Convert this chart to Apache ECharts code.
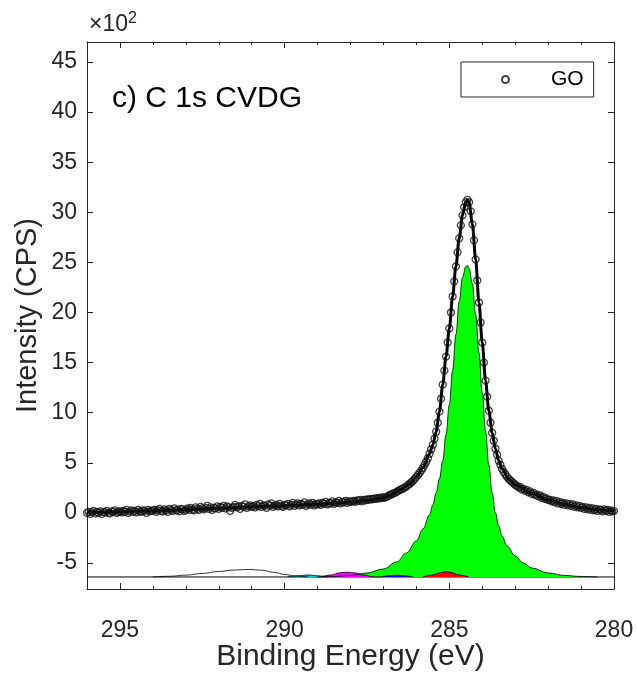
<!DOCTYPE html>
<html>
<head>
<meta charset="utf-8">
<script src="https://cdn.jsdelivr.net/npm/echarts@6/dist/echarts.min.js"></script>
<style>
html,body{margin:0;padding:0;background:#fff;}
#chart{width:637px;height:673px;}
</style>
</head>
<body>
<div id="chart"></div>
<script>
// ---- data (intensity in units of 10^2 CPS) ----
const energyStart = 296.0;   // eV, first measured point
const energyStep = 0.05;     // eV, spacing of measured points (descending)
const goIntensity = [
  0.0, 0.1, -0.1, 0.05, 0.2, -0.05, 0.1, 0.0, 0.15, -0.1, 0.1, 0.05, 0.2, 0.0, -0.05, 0.15, 0.1, 0.25, 0.0, 0.1, 0.15,
  0.05, 0.2, 0.1, 0.3, 0.0, 0.15, 0.25, 0.1, 0.2, 0.05, 0.3, 0.15, 0.1, 0.25, 0.2, 0.0, 0.3, 0.15, 0.2, 0.25,
  0.3, 0.1, 0.25, 0.4, 0.2, 0.15, 0.35, 0.25, 0.1, 0.4, 0.3, 0.2, 0.45, 0.25, 0.3, 0.15, 0.4, 0.35, 0.2, 0.3,
  0.45, 0.3, 0.5, 0.35, 0.25, 0.55, 0.4, 0.3, 0.6, 0.45, 0.35, 0.5, 0.7, 0.4, 0.55, 0.3, 0.5, 0.45, 0.65, 0.4,
  0.6, 0.5, 0.7, 0.45, 0.65, 0.55, 0.2, 0.5, 0.6, 0.8, 0.55, 0.65, 0.4, 0.7, 0.6, 0.85, 0.5, 0.65, 0.75, 0.6,
  0.7, 0.55, 0.8, 0.65, 0.9, 0.6, 0.75, 0.7, 0.5, 0.85, 0.7, 0.95, 0.6, 0.75, 0.8, 0.65, 0.9, 0.7, 0.6, 0.8,
  0.75, 0.9, 0.65, 0.8, 1.0, 0.7, 0.85, 0.95, 0.75, 0.9, 0.8, 1.05, 0.7, 0.85, 0.95, 0.8, 1.0, 0.75, 0.9, 0.85,
  0.95, 0.8, 1.0, 0.9, 1.1, 0.85, 1.0, 0.95, 1.15, 0.9, 1.05, 1.0, 1.2, 0.95, 1.1, 1.05, 1.2, 1.0, 1.15, 1.1,
  1.15, 1.2, 1.1, 1.25, 1.2, 1.3, 1.15, 1.3, 1.25, 1.35, 1.3, 1.4, 1.35, 1.4, 1.45, 1.4, 1.5, 1.45, 1.55, 1.5,
  1.55, 1.6, 1.7, 1.8, 1.85, 1.95, 2.0, 2.1, 2.2, 2.3, 2.35, 2.45, 2.55, 2.65, 2.8, 2.9, 3.05, 3.2, 3.4, 3.6,
  3.8, 4.0, 4.25, 4.5, 4.8, 5.1, 5.45, 5.9, 6.35, 6.8, 7.4, 8.1, 9.0, 10.1, 11.4, 12.8, 14.2, 15.6, 17.0, 18.4,
  20.0, 21.6, 23.1, 24.6, 26.0, 27.4, 28.7, 29.7, 30.5, 31.0, 31.25, 31.0, 30.1, 28.8, 27.2, 25.3, 23.2, 21.0, 19.0, 17.0,
  15.0, 13.2, 11.6, 10.2, 9.0, 8.0, 7.2, 6.4, 5.8, 5.2, 4.8, 4.4, 4.1, 3.85, 3.6, 3.4, 3.25, 3.1, 2.95, 2.8,
  2.7, 2.55, 2.6, 2.35, 2.4, 2.2, 2.3, 2.05, 2.15, 1.9, 2.0, 1.8, 1.85, 1.65, 1.75, 1.5, 1.6, 1.4, 1.45, 1.3,
  1.3, 1.15, 1.25, 1.05, 1.2, 0.95, 1.1, 0.9, 1.0, 0.8, 0.95, 0.75, 0.9, 0.7, 0.85, 0.6, 0.75, 0.55, 0.7, 0.5,
  0.6, 0.4, 0.55, 0.35, 0.5, 0.3, 0.45, 0.25, 0.4, 0.2, 0.35, 0.3, 0.15, 0.35, 0.2, 0.3, 0.1, 0.25, 0.15, 0.2
];

// fitted envelope
const fitEnergy = [296, 295, 294, 293, 292, 291, 290, 289, 288.5, 288, 287.5, 287, 286.8, 286.5, 286.2, 286, 285.8, 285.6, 285.5, 285.4, 285.3, 285.2, 285.1, 285.0, 284.9, 284.8, 284.7, 284.6, 284.5, 284.45, 284.4, 284.3, 284.2, 284.1, 284.0, 283.9, 283.8, 283.7, 283.6, 283.5, 283.4, 283.2, 283.0, 282.5, 282.0, 281.5, 281.0, 280.5, 280];
const fitIntensity = [0.05, 0.12, 0.2, 0.3, 0.45, 0.6, 0.72, 0.85, 0.95, 1.08, 1.25, 1.5, 1.75, 2.3, 2.9, 3.6, 4.5, 5.9, 6.8, 8.1, 10.1, 12.8, 15.6, 18.4, 21.6, 24.6, 27.4, 29.7, 31.0, 31.25, 31.0, 28.8, 25.3, 21.0, 17.0, 13.2, 10.2, 8.0, 6.4, 5.2, 4.4, 3.4, 2.8, 1.95, 1.3, 0.85, 0.5, 0.3, 0.2];

// component baseline (shifted background)
const baselineEnergy = [296, 280];
const baselineIntensity = [-6.4, -6.4];

// component peaks
const greenEnergy = [289.0, 288.5, 288.0, 287.5, 287.0, 286.6, 286.3, 286.0, 285.8, 285.6, 285.5, 285.4, 285.3, 285.2, 285.1, 285.0, 284.9, 284.8, 284.7, 284.6, 284.5, 284.45, 284.4, 284.3, 284.2, 284.1, 284.0, 283.9, 283.8, 283.7, 283.6, 283.5, 283.4, 283.25, 283.0, 282.75, 282.5, 282.0, 281.5, 281.0, 280.5];
const greenIntensity = [-6.4, -6.36, -6.25, -6.0, -5.6, -4.9, -4.0, -2.8, -1.6, -0.2, 0.8, 2.0, 3.4, 5.2, 7.8, 10.8, 14.2, 17.8, 21.1, 23.5, 24.6, 24.7, 24.4, 22.9, 19.8, 16.0, 12.0, 8.2, 4.8, 2.0, 0.0, -1.3, -2.3, -3.3, -4.3, -5.0, -5.5, -6.0, -6.25, -6.35, -6.4];
const whiteEnergy = [294.0, 293.5, 293.0, 292.5, 292.0, 291.5, 291.1, 290.7, 290.3, 290.0, 289.7, 289.3];
const whiteIntensity = [-6.4, -6.33, -6.22, -6.05, -5.85, -5.7, -5.65, -5.72, -5.95, -6.15, -6.3, -6.4];
const cyanEnergy = [289.9, 289.6, 289.3, 289.0, 288.7];
const cyanIntensity = [-6.4, -6.28, -6.2, -6.28, -6.4];
const magentaEnergy = [288.9, 288.6, 288.3, 288.1, 287.9, 287.6, 287.3, 287.1];
const magentaIntensity = [-6.4, -6.2, -5.97, -5.92, -5.98, -6.2, -6.38, -6.4];
const blueEnergy = [287.1, 286.8, 286.6, 286.4, 286.1];
const blueIntensity = [-6.4, -6.28, -6.22, -6.28, -6.4];
const redEnergy = [285.8, 285.5, 285.25, 285.1, 284.95, 284.7, 284.4];
const redIntensity = [-6.4, -6.2, -5.95, -5.88, -5.95, -6.2, -6.4];

// ticks
const xMajorTicks = [280, 285, 290, 295];
const xMinorTicks = [281, 282, 283, 284, 286, 287, 288, 289, 291, 292, 293, 294];
const yMajorTicks = [-5, 0, 5, 10, 15, 20, 25, 30, 35, 40, 45];

// ---- build ----
const pairs = (xs, ys) => xs.map((x, i) => [x, ys[i]]);
const goData = goIntensity.map((v, i) => [Math.round((energyStart - i * energyStep) * 100) / 100, v]);

const FONT = '"Liberation Sans", Arial, Helvetica, sans-serif';
const AX = '#262626';
const xRange = { min: 280, max: 296 };
const yRange = { min: -7.6, max: 47 };

function xAxisDef(position, ticks, len, showLine, withLabel) {
  const a = {
    type: 'value', position: position, min: xRange.min, max: xRange.max, inverse: true,
    axisLine: { show: showLine, onZero: false, lineStyle: { color: AX, width: 1 } },
    axisTick: { show: true, inside: true, length: len, customValues: ticks, lineStyle: { color: AX, width: 1 } },
    axisLabel: { show: false },
    splitLine: { show: false }
  };
  if (withLabel) {
    a.axisLabel = { show: true, customValues: ticks, margin: 30, fontSize: 23, color: AX, fontFamily: FONT };
    a.name = 'Binding Energy (eV)';
    a.nameLocation = 'middle';
    a.nameGap = 53;
    a.nameMoveOverlap = false;
    a.nameTextStyle = { fontSize: 30, color: AX, fontFamily: FONT };
  }
  return a;
}
function yAxisDef(position, withLabel) {
  const a = {
    type: 'value', position: position, min: yRange.min, max: yRange.max,
    axisLine: { show: true, onZero: false, lineStyle: { color: AX, width: 1 } },
    axisTick: { show: true, inside: true, length: 6, customValues: yMajorTicks, lineStyle: { color: AX, width: 1 } },
    axisLabel: { show: false },
    splitLine: { show: false }
  };
  if (withLabel) {
    a.axisLabel = { show: true, customValues: yMajorTicks, margin: 10, fontSize: 23, color: AX, fontFamily: FONT };
    a.name = 'Intensity (CPS)';
    a.nameLocation = 'middle';
    a.nameGap = 45;
    a.nameMoveOverlap = false;
    a.nameTextStyle = { fontSize: 29, color: AX, fontFamily: FONT };
  }
  return a;
}
function component(name, xs, ys, fill) {
  const s = {
    name: name, type: 'line', data: pairs(xs, ys), smooth: 0.4, smoothMonotone: 'x',
    symbol: 'none', silent: true, z: 3,
    lineStyle: { color: '#000', width: 0.8 }
  };
  if (fill) s.areaStyle = { color: fill, opacity: 1, origin: -6.4 };
  return s;
}

const chart = echarts.init(document.getElementById('chart'), null, { renderer: 'canvas' });
chart.setOption({
  animation: false,
  backgroundColor: '#fff',
  textStyle: { fontFamily: FONT },
  title: {
    text: 'c) C 1s CVDG', left: 112, top: 84, padding: 0,
    textStyle: { fontSize: 30, fontWeight: 'normal', color: '#000', fontFamily: FONT }
  },
  graphic: [{
    type: 'text', left: 89, top: 11,
    style: {
      text: '{a|×10}{s|2}',
      rich: {
        a: { fontSize: 23, lineHeight: 28, fill: AX, fontFamily: FONT },
        s: { fontSize: 16, lineHeight: 16, verticalAlign: 'top', fill: AX, fontFamily: FONT }
      }
    }
  }],
  legend: {
    data: ['GO'], left: 461, top: 62, orient: 'horizontal',
    itemWidth: 7, itemHeight: 7, padding: [7, 10, 7, 40],
    borderColor: AX, borderWidth: 1, backgroundColor: '#fff',
    textStyle: { fontSize: 21, color: '#000', fontFamily: FONT, padding: [0, 0, 0, 37] }
  },
  grid: { left: 87, right: 23, top: 42, bottom: 84, containLabel: false, outerBoundsMode: 'none' },
  xAxis: [
    xAxisDef('bottom', xMajorTicks, 6, true, true),
    xAxisDef('bottom', xMinorTicks, 3, false, false),
    xAxisDef('top', xMajorTicks, 6, true, false),
    xAxisDef('top', xMinorTicks, 3, false, false)
  ],
  yAxis: [
    yAxisDef('left', true),
    yAxisDef('right', false)
  ],
  series: [
    { name: 'baseline', type: 'line', data: pairs(baselineEnergy, baselineIntensity), symbol: 'none', silent: true, z: 2,
      lineStyle: { color: '#000', width: 1 } },
    component('C=C', greenEnergy, greenIntensity, '#00ff00'),
    component('π-π*', whiteEnergy, whiteIntensity, null),
    component('O-C=O', cyanEnergy, cyanIntensity, '#00c8c8'),
    component('C=O', magentaEnergy, magentaIntensity, '#ff00ff'),
    component('C-O', blueEnergy, blueIntensity, '#0000ff'),
    component('C-C', redEnergy, redIntensity, '#ff0000'),
    { name: 'fit', type: 'line', data: pairs(fitEnergy, fitIntensity), smooth: 0.3, smoothMonotone: 'x',
      symbol: 'none', silent: true, z: 4, lineStyle: { color: '#000', width: 3 } },
    { name: 'GO', type: 'scatter', data: goData, symbol: 'circle', symbolSize: 7, z: 5,
      itemStyle: { color: 'rgba(255,255,255,0)', borderColor: '#111', borderWidth: 1.3 } }
  ]
});
</script>
</body>
</html>
